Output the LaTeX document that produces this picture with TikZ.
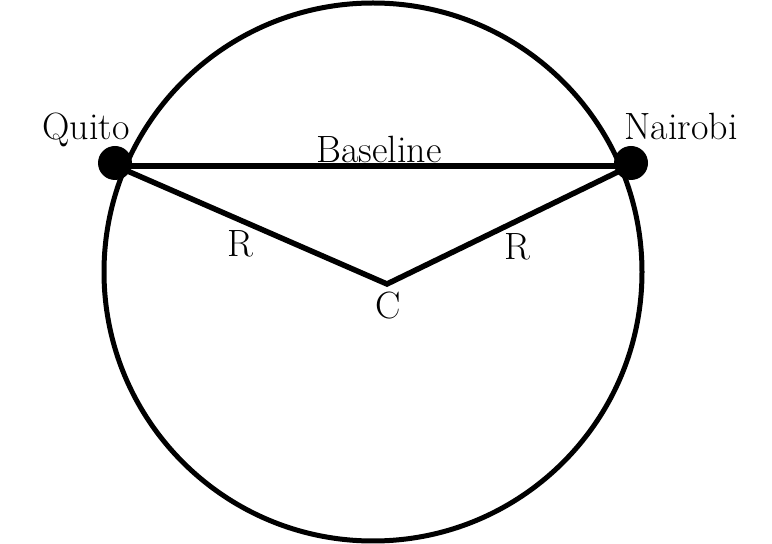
\documentclass[tikz,border=0pt]{standalone}
\begin{document}
\begin{tikzpicture}[x=1pt,y=1pt,
  lbl/.style={font=\fontsize{38}{38}\selectfont, inner sep=0pt, anchor=base},
  edge/.style={line width=5.5pt, line join=miter},
  city/.style={circle, fill=black, minimum size=34pt, inner sep=0pt}]
\useasboundingbox (0,0) rectangle (772,544);
\draw[line width=5pt] (373,272) circle (269);
\coordinate (q) at (116,378);
\coordinate (n) at (630,378);
\coordinate (c) at (387,260);
\draw[edge] (q) -- (n);
\draw[edge] (q) -- (c) -- (n);
\node[city] (qd) at (115,381) {};
\node[city] (nd) at (631,381) {};
\node[lbl] (tq) at (86,404) {Quito};
\node[lbl] (tn) at (681,404) {Nairobi};
\node[lbl] (tb) at (379,381) {Baseline};
\node[lbl] (r1) at (240,287) {R};
\node[lbl] (r2) at (517,284) {R};
\node[lbl] (tc) at (388,225) {C};
\end{tikzpicture}
\end{document}
